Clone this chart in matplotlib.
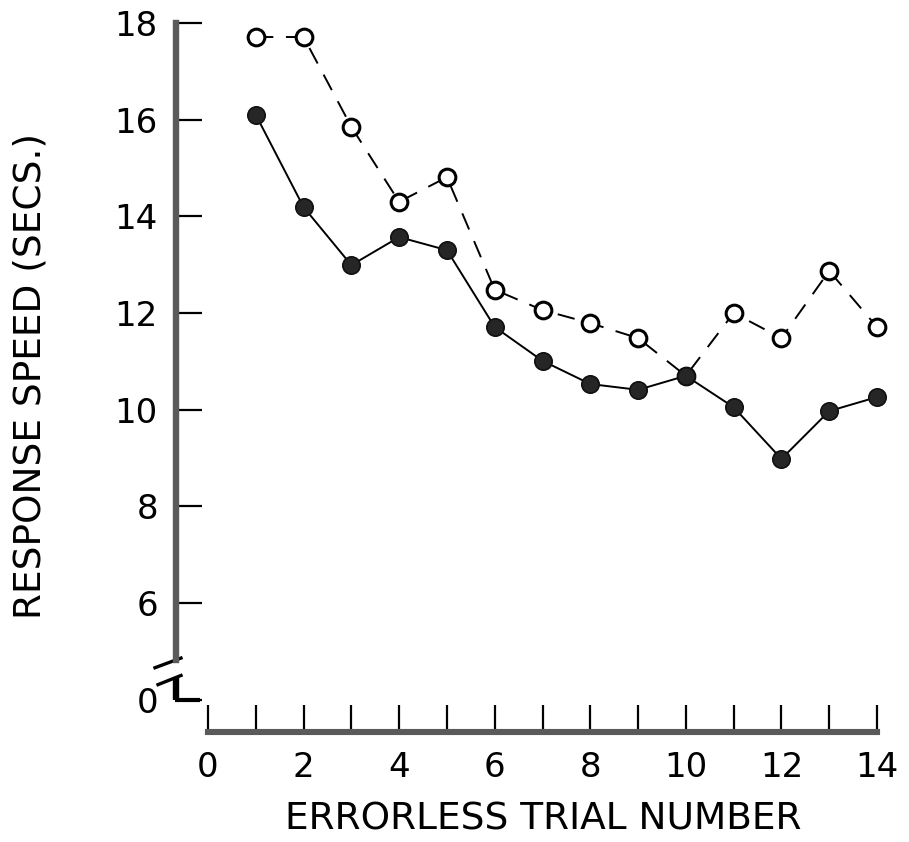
import matplotlib
matplotlib.use("Agg")
import matplotlib.pyplot as plt
import matplotlib.transforms as mtransforms
import numpy as np

# ---- data ----
trials = [1, 2, 3, 4, 5, 6, 7, 8, 9, 10, 11, 12, 13, 14]
open_series = [17.71, 17.71, 15.85, 14.30, 14.81, 12.48, 12.06, 11.79, 11.48, 10.70, 12.00, 11.48, 12.87, 11.71]
filled_series = [16.10, 14.19, 12.99, 13.57, 13.30, 11.71, 11.01, 10.53, 10.41, 10.70, 10.05, 8.98, 9.97, 10.26]
x_major_ticks = [0, 2, 4, 6, 8, 10, 12, 14]
x_minor_ticks = [1, 3, 5, 7, 9, 11, 13]
y_tick_values = [6, 8, 10, 12, 14, 16, 18]
y_tick_labels = ["6", "8", "10", "12", "14", "16", "18"]
zero_label = "0"
xlabel = "ERRORLESS TRIAL NUMBER"
ylabel = "RESPONSE SPEED (SECS.)"

# broken axis: "0" drawn at this display position below the break
ZERO_POS = 4.0
BREAK_TOP = 4.82

plt.rcParams['font.family'] = ['DejaVu Sans']

W, H = 909, 842
fig = plt.figure(figsize=(W / 100, H / 100), dpi=100)
ax = fig.add_axes([208 / W, (H - 732) / H, 669 / W, 709 / H])
ax.set_xlim(0, 14)
ax.set_ylim(3.33, 18)

axis_color = '#5a5a5a'

# lines
dashed, = ax.plot(trials, open_series, color='black', lw=1.4, ls=(0, (9, 6.5)), zorder=2, clip_on=False)
ax.plot(trials, filled_series, color='black', lw=1.4, zorder=2, clip_on=False)
# markers
ax.plot(trials, open_series, ls='none', marker='o', ms=12, mfc='white', mec='black', mew=2.2,
        zorder=3, clip_on=False)
ax.plot(trials, filled_series, ls='none', marker='o', ms=12.5, mfc='#262626', mec='#111111', mew=1.2,
        zorder=4, clip_on=False)

# spines
for s in ['top', 'right']:
    ax.spines[s].set_visible(False)
ax.spines['left'].set_position(('outward', 32 * 72 / 100))
ax.spines['left'].set_bounds(BREAK_TOP, 18)
ax.spines['left'].set_linewidth(4.6)
ax.spines['left'].set_color(axis_color)
ax.spines['bottom'].set_bounds(0, 14)
ax.spines['bottom'].set_linewidth(4.4)
ax.spines['bottom'].set_color(axis_color)

# x ticks
ax.set_xticks(x_major_ticks)
ax.set_xticks(x_minor_ticks, minor=True)
ax.set_xticklabels([str(v) for v in x_major_ticks])
ax.tick_params(axis='x', which='both', direction='in', length=19.5, width=1.6, color='black',
               labelsize=24.5, pad=14)
ax.tick_params(axis='x', which='minor', labelbottom=False)

# y ticks
ax.set_yticks([ZERO_POS] + y_tick_values)
ax.set_yticklabels([zero_label] + y_tick_labels)
ax.tick_params(axis='y', direction='in', length=19, width=1.6, color='black', labelsize=24.5, pad=13)

# break decoration on the y axis (axes-fraction x, data y)
trans = mtransforms.blended_transform_factory(ax.transAxes, ax.transData)
def px2af(px):
    return (px - 208) / 669.0
xs = px2af(176)
ax.plot([xs, xs], [4.47, ZERO_POS], transform=trans, color='black', lw=4.6, clip_on=False,
        solid_capstyle='butt')
ax.plot([xs - 0.002, px2af(200)], [ZERO_POS, ZERO_POS], transform=trans, color='black', lw=3.0,
        clip_on=False, solid_capstyle='butt')
ax.plot([px2af(155), px2af(181)], [4.66, 4.86], transform=trans, color='black', lw=2.4, clip_on=False)
ax.plot([px2af(158), px2af(181)], [4.31, 4.50], transform=trans, color='black', lw=2.4, clip_on=False)

# labels
ax.set_xlabel(xlabel, fontsize=27)
ax.xaxis.set_label_coords(0.5007, (732 - 802) / 709.0)
ax.set_ylabel(ylabel, fontsize=27)
ax.yaxis.set_label_coords(px2af(49), 0.502)

fig.savefig('out.png', dpi=100, facecolor='white')
